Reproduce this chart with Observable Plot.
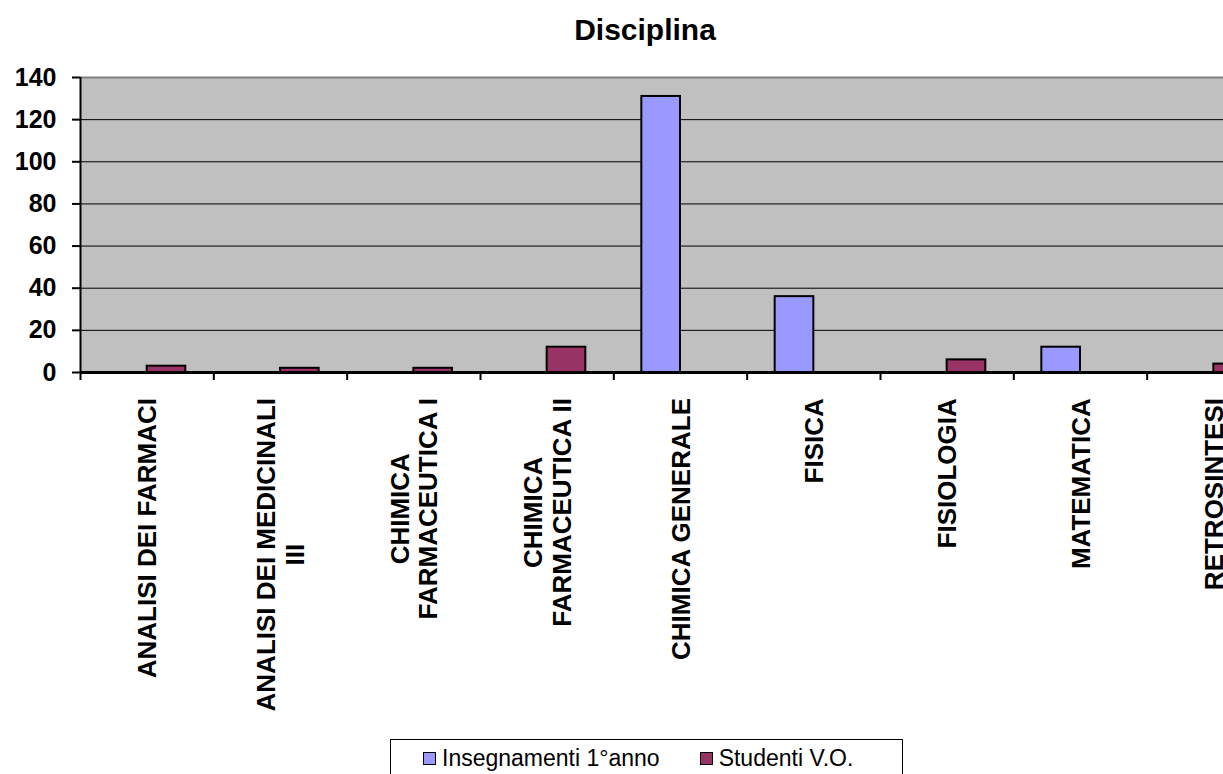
<!DOCTYPE html>
<html><head><meta charset="utf-8">
<script src="https://cdn.jsdelivr.net/npm/d3@7"></script>
<script src="https://cdn.jsdelivr.net/npm/@observablehq/plot@0.6"></script>
<style>
body{margin:0;background:#fff;font-family:"Liberation Sans",Arial,sans-serif;color:#000;}
#wrap{position:relative;width:1223px;height:774px;overflow:hidden;}
#chart{position:absolute;left:0;top:0;width:1280px;}
#chart svg{max-width:none !important;}
#title{position:absolute;left:0;width:1290px;top:12px;text-align:center;font-weight:bold;font-size:30px;line-height:36px;}
#legend{position:absolute;left:390px;top:739px;width:513px;height:50px;border:1px solid #000;box-sizing:border-box;display:flex;align-items:flex-start;padding-left:32px;padding-top:5px;font-size:23px;}
.item{display:flex;align-items:center;margin-right:40px;white-space:nowrap;}
.sw{display:inline-block;width:11px;height:11px;border:1px solid #000;margin-right:6px;}
</style></head>
<body>
<div id="wrap">
  <div id="chart"></div>
  <div id="title">Disciplina</div>
  <div id="legend"></div>
</div>
<script>
const categories = ["ANALISI DEI FARMACI","ANALISI DEI MEDICINALI\nIII","CHIMICA\nFARMACEUTICA I","CHIMICA\nFARMACEUTICA II","CHIMICA GENERALE","FISICA","FISIOLOGIA","MATEMATICA","RETROSINTESI"];
const insegnamenti = [0,0,0,0,131,36,0,12,0];
const studenti = [3,2,2,12,0,0,6,0,4];
const yTicks = [0,20,40,60,80,100,120,140];
const seriesNames = ["Insegnamenti 1°anno","Studenti V.O."];
const colors = ["#9999FF","#993366"];

const rows = [];
categories.forEach((c,i)=>{
  rows.push({i, s:0, series:seriesNames[0], value:insegnamenti[i]});
  rows.push({i, s:1, series:seriesNames[1], value:studenti[i]});
});
const bars = rows.filter(d=>d.value>0);
const barW = 0.29;

const W = 1280, H = 740, mT = 77, mB = 368, mL = 80;
const plot = Plot.plot({
  width: W, height: H, marginTop: mT, marginBottom: mB, marginLeft: mL, marginRight: 0,
  style:{fontFamily:"Liberation Sans, Arial, sans-serif", fontSize:"25px", fontWeight:"bold", color:"#000", background:"transparent", overflow:"visible", maxWidth:"none"},
  x:{type:"linear", domain:[0, categories.length], axis:null},
  y:{domain:[0,140], axis:null},
  color:{domain:seriesNames, range:colors},
  marks:[
    Plot.frame({fill:"#C0C0C0", stroke:null}),
    Plot.gridY(yTicks.filter(v=>v>0 && v<140), {stroke:"#000", strokeOpacity:1, strokeWidth:1}),
    Plot.ruleY([140], {stroke:"#808080", strokeWidth:2}),
    Plot.rectY(bars, {
      x1: d => d.i + 0.5 + (d.s === 0 ? -barW : 0),
      x2: d => d.i + 0.5 + (d.s === 0 ? 0 : barW),
      y: "value", fill: "series", stroke: "#000", strokeWidth: 2
    }),
    Plot.axisY(yTicks, {label:null, tickSize:8, tickPadding:16, stroke:"#000", strokeWidth:2, fontSize:25, fontWeight:"bold"}),
    Plot.ruleX([0], {y1:0, y2:140, stroke:"#000", strokeWidth:2}),
    Plot.axisX(d3.range(categories.length+1), {label:null, tickSize:8, tickFormat:()=>"", stroke:"#000", strokeWidth:2}),
    Plot.ruleY([0], {stroke:"#000", strokeWidth:3}),
    Plot.axisX(d3.range(categories.length).map(i=>i+0.5), {
      label:null, tickSize:0, tickPadding:26, tickRotate:-90, textAnchor:"middle", lineAnchor:"middle", lineHeight:1.1,
      tickFormat: v => categories[Math.floor(v)], fontSize:26, fontWeight:"bold"
    })
  ]
});
document.getElementById("chart").appendChild(plot);

// align label ends just below the axis
const svgRect = plot.getBoundingClientRect();
const target = (H - mB) + 26;
plot.querySelectorAll('g[aria-label="x-axis tick label"] text').forEach(t=>{
  if(!t.textContent.trim()) return;
  const r = t.getBoundingClientRect();
  const delta = target - (r.top - svgRect.top);
  t.setAttribute("transform", `translate(0,${delta}) ` + (t.getAttribute("transform")||""));
});

const legend = document.getElementById("legend");
seriesNames.forEach((n,k)=>{
  const it = document.createElement("span"); it.className="item";
  const sw = document.createElement("span"); sw.className="sw"; sw.style.background = colors[k];
  it.appendChild(sw); it.appendChild(document.createTextNode(n));
  legend.appendChild(it);
});
</script>
</body></html>
